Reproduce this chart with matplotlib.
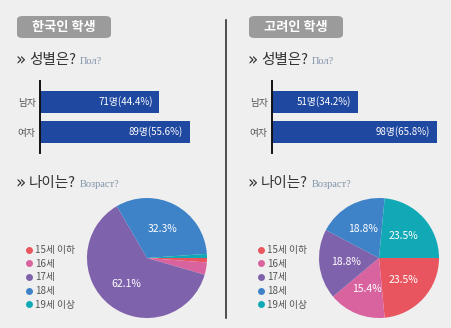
import matplotlib
matplotlib.use("Agg")
import matplotlib.pyplot as plt
from matplotlib.patches import FancyBboxPatch
from matplotlib.lines import Line2D

plt.rcParams['font.family'] = ['Noto Sans CJK KR', 'DejaVu Sans']

# data
groups = ["한국인 학생", "고려인 학생"]
gender_labels = ["남자", "여자"]
gender_counts = [[71, 89], [51, 98]]
gender_pcts = [[44.4, 55.6], [34.2, 65.8]]
age_labels = ["15세 이하", "16세", "17세", "18세", "19세 이상"]
age_pcts = [[1.2, 3.3, 62.1, 32.3, 1.1], [23.5, 15.4, 18.8, 18.8, 23.5]]
age_colors = ["#e9555f", "#d9639f", "#7f62ac", "#3e82c8", "#11a9b6"]
bar_color = "#1f48a0"

W, H = 452, 328
fig = plt.figure(figsize=(W / 100, H / 100), dpi=100, facecolor="#efefef")


def px_axes(x, y, w, h):
  # pixel box (top-left origin) -> figure axes
  return fig.add_axes([x / W, 1 - (y + h) / H, w / W, h / H])


def fx(x):
  return x / W


def fy(y):
  return 1 - y / H


def heading(x, y, kr, ru):
  fig.text(fx(x), fy(y + 0.5), "»", color="#333333", fontsize=12,
           family="DejaVu Sans", ha="left", va="center")
  fig.text(fx(x + 14), fy(y), kr, color="#333333", fontsize=10.5,
           ha="left", va="center")
  fig.text(fx(x + 65), fy(y + 1), ru, color="#7f93a8", fontsize=7.5,
           family="Liberation Serif", ha="left", va="center")


# divider line
fig.add_artist(Line2D([fx(226), fx(226)], [fy(20), fy(318)], color="#222222", lw=1.1))

offsets = [0, 232]
for i, off in enumerate(offsets):
  # title badge
  bx = 17 + off
  badge = FancyBboxPatch((fx(bx), fy(38)), fx(94), fy(16) - fy(38),
                         boxstyle="round,pad=0,rounding_size=0.012",
                         transform=fig.transFigure, facecolor="#9b9b9b",
                         edgecolor="none")
  fig.add_artist(badge)
  fig.text(fx(bx + 47), fy(27.5), groups[i], color="white", fontsize=9.5,
           fontweight="bold", ha="center", va="center")

  # section headings
  heading(15 + off, 60, "성별은?", "Пол?")
  heading(15 + off, 183, "나이는?", "Возраст?")

  # gender bars
  ax = px_axes(40 + off, 81, 175, 72)
  ax.barh([0, 1], gender_counts[i], height=0.73, color=bar_color)
  ax.set_ylim(1.7, -0.7)
  ax.set_xlim(0, 104)
  ax.set_facecolor("none")
  for s in ["top", "right", "bottom"]:
    ax.spines[s].set_visible(False)
  ax.spines["left"].set_color("#111111")
  ax.spines["left"].set_linewidth(1.4)
  ax.set_xticks([])
  ax.set_yticks([0, 1])
  ax.set_yticklabels(gender_labels, fontsize=7, color="#555555")
  ax.tick_params(axis="y", length=0, pad=3)
  for j, (c, p) in enumerate(zip(gender_counts[i], gender_pcts[i])):
    ax.text(c - 4, j, f"{c}명({p}%)", color="white", fontsize=7,
            ha="right", va="center")

  # age pie
  cx = 147 + off
  r = 60
  pax = px_axes(cx - r, 258 - r, 2 * r, 2 * r)
  vals = age_pcts[i]
  wedges, _, autotexts = pax.pie(
      vals, colors=age_colors, startangle=0, counterclock=False,
      autopct=lambda p: f"{p:.1f}%" if p > 5 else "", pctdistance=0.55,
      wedgeprops=dict(linewidth=0), textprops=dict(color="white", fontsize=7.5))
  pax.set_xlim(-1, 1)
  pax.set_ylim(-1, 1)
  for t, v in zip(autotexts, vals):
    if v > 5:
      t.set_text(f"{v}%")

  handles = [Line2D([], [], marker="o", linestyle="none", markersize=5,
                    markerfacecolor=c, markeredgecolor="none") for c in age_colors]
  fig.legend(handles, age_labels, loc="upper left",
             bbox_to_anchor=(fx(26 + off), fy(245)), frameon=False,
             fontsize=7, labelcolor="#555555", handlelength=0.6,
             handletextpad=0.3, labelspacing=0.38, borderpad=0,
             borderaxespad=0)

fig.savefig("out.png", dpi=100, facecolor=fig.get_facecolor())
